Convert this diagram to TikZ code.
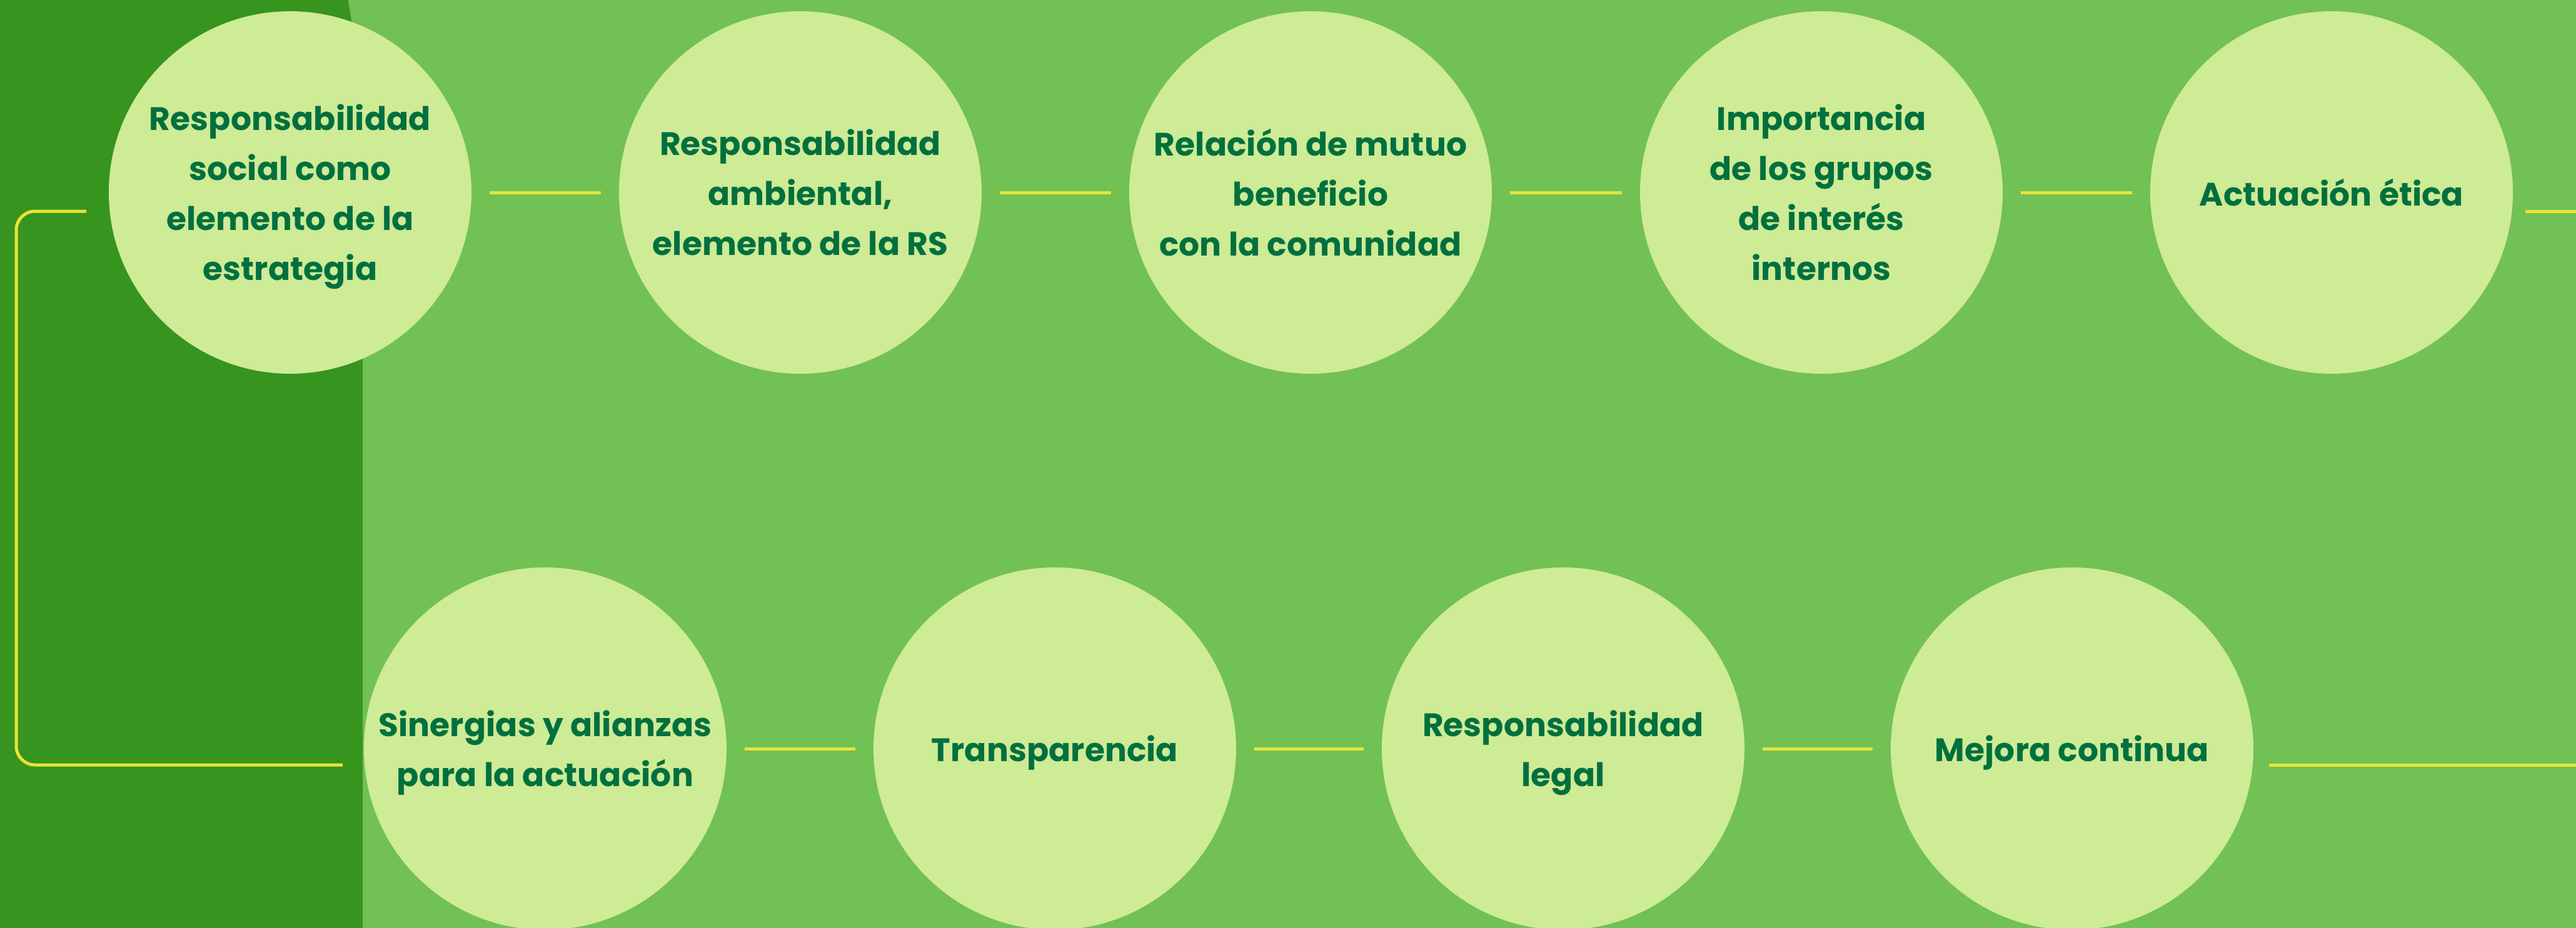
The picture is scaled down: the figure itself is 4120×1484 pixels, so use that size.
\documentclass[tikz,border=0pt]{standalone}
\usepackage{fontspec}
\setmainfont{Poppins}
\definecolor{bglight}{RGB}{114,193,84}
\definecolor{bgdark}{RGB}{55,148,31}
\definecolor{circfill}{RGB}{206,235,150}
\definecolor{txtgreen}{RGB}{0,112,63}
\definecolor{lineyellow}{RGB}{232,227,55}
\begin{document}
\begin{tikzpicture}[x=1pt,y=-1pt,
  topic/.style={circle,fill=circfill,minimum size=580pt,inner sep=0pt,outer sep=0pt,
    align=center,text=txtgreen,text depth=0pt,font=\fontsize{52}{80}\selectfont\bfseries},
  conn/.style={draw=lineyellow,line width=5pt,shorten >=29pt,shorten <=29pt},
  track/.style={draw=lineyellow,line width=5pt,rounded corners=30pt}]
\useasboundingbox (0,0) rectangle (4120,1484);
\begin{scope}
\clip (-20,-20) rectangle (4140,1504);
\fill[bglight] (-20,-20) rectangle (4140,1504);
\fill[bgdark] (-20,-20) -- (553,-20) -- (580,136) -- (580,1504) -- (-20,1504) -- cycle;
% top row
\node[topic] (c1) at (464,308) {Responsabilidad\\social como\\elemento de la\\estrategia};
\node[topic] (c2) at (1280,308) {Responsabilidad\\ambiental,\\elemento de la RS};
\node[topic] (c3) at (2096,308) {Relación de mutuo\\beneficio\\con la comunidad};
\node[topic] (c4) at (2913,308) {Importancia\\de los grupos\\de interés\\internos};
\node[topic] (c5) at (3729,308) {Actuación ética};
% bottom row
\node[topic] (d1) at (872,1198) {Sinergias y alianzas\\para la actuación};
\node[topic] (d2) at (1687,1198) {Transparencia};
\node[topic] (d3) at (2500,1198) {Responsabilidad\\legal};
\node[topic] (d4) at (3314,1198) {Mejora continua};
% connectors
\draw[conn] (c1) -- (c2);
\draw[conn] (c2) -- (c3);
\draw[conn] (c3) -- (c4);
\draw[conn] (c4) -- (c5);
\draw[conn] (d1) -- (d2);
\draw[conn] (d2) -- (d3);
\draw[conn] (d3) -- (d4);
% entry / exit lines
\coordinate (inA) at (138,338);
\coordinate (inB) at (548,1224);
\coordinate (outA1) at (4039,338);
\coordinate (outA2) at (4140,338);
\coordinate (outB1) at (3629,1224);
\coordinate (outB2) at (4140,1224);
\draw[track] (inA) -- (26,338) -- (26,1224) -- (inB);
\draw[track] (outA1) -- (outA2);
\draw[track] (outB1) -- (outB2);
\end{scope}
\end{tikzpicture}
\end{document}
